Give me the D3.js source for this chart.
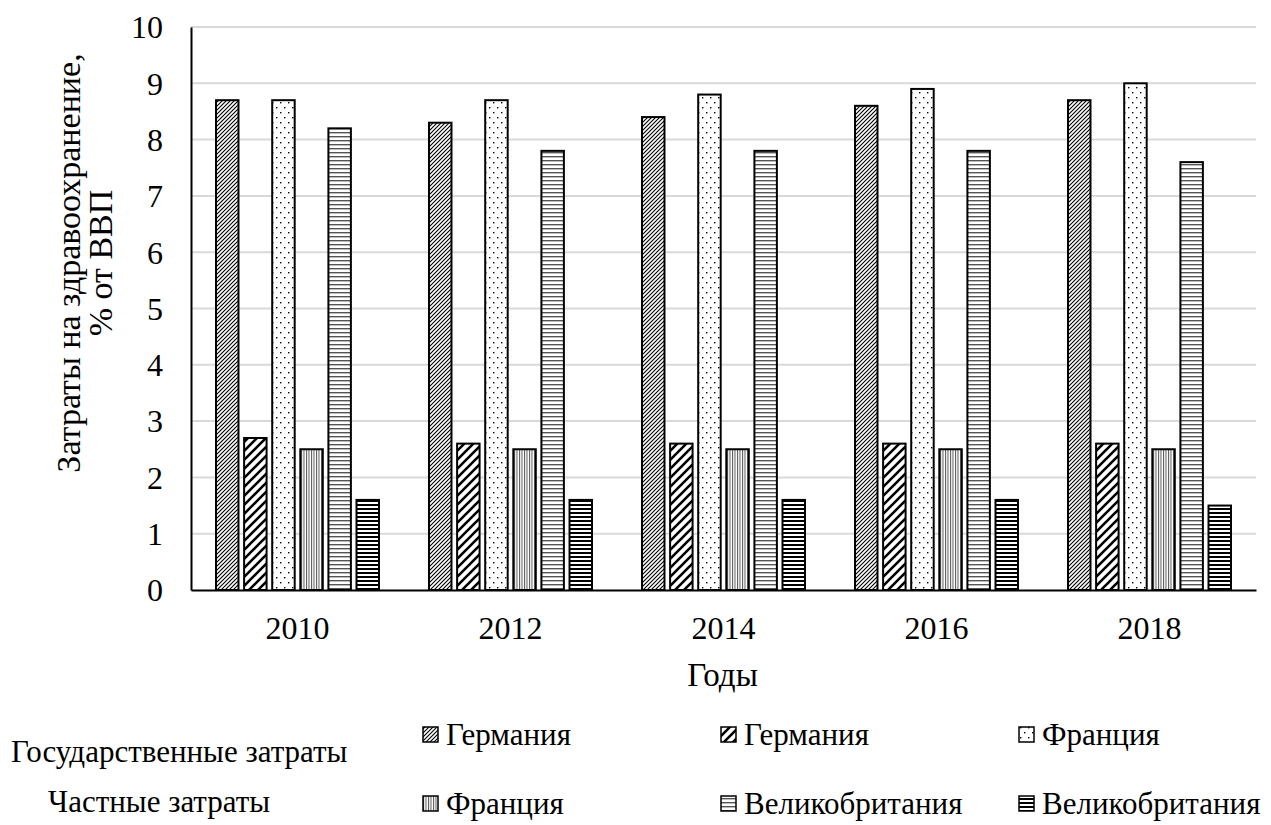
<!DOCTYPE html>
<html>
<head>
<meta charset="utf-8">
<script src="https://cdn.jsdelivr.net/npm/d3@7"></script>
<style>
  html, body { margin: 0; padding: 0; background: #fff; }
</style>
</head>
<body>
<svg id="chart" width="1271" height="825"></svg>
<script>
// Years on the category axis
const years = ["2010", "2012", "2014", "2016", "2018"];

// Series keys, drawn in this order inside each year group
const seriesKeys = ["deGov", "dePriv", "frGov", "frPriv", "ukGov", "ukPriv"];
const seriesNames = ["Германия", "Германия", "Франция", "Франция", "Великобритания", "Великобритания"];

// Health spending, % of GDP
const deGov  = [8.7, 8.3, 8.4, 8.6, 8.7];
const dePriv = [2.7, 2.6, 2.6, 2.6, 2.6];
const frGov  = [8.7, 8.7, 8.8, 8.9, 9.0];
const frPriv = [2.5, 2.5, 2.5, 2.5, 2.5];
const ukGov  = [8.2, 7.8, 7.8, 7.8, 7.6];
const ukPriv = [1.6, 1.6, 1.6, 1.6, 1.5];

const yTicks = [0, 1, 2, 3, 4, 5, 6, 7, 8, 9, 10];

const yTitleLines = ["Затраты на здравоохранение,", "% от ВВП"];
const xTitle = "Годы";
const groupLabels = ["Государственные затраты", "Частные затраты"];

const valuesByKey = { deGov, dePriv, frGov, frPriv, ukGov, ukPriv };

const FONT = "'Liberation Serif', 'Times New Roman', serif";

const svg = d3.select("#chart");
const plotLeft = 191, plotRight = 1256, plotTop = 27, plotBottom = 590;

// Hatch fills
const defs = svg.append("defs");
function pat(id, w, h) {
  return defs.append("pattern").attr("id", id)
    .attr("patternUnits", "userSpaceOnUse").attr("width", w).attr("height", h)
    .call(p => p.append("rect").attr("width", w).attr("height", h).attr("fill", "#fff"));
}
// dense upward diagonal
pat("p-deGov", 4, 4).append("path")
  .attr("d", "M-1,1 L1,-1 M0,4 L4,0 M3,5 L5,3")
  .attr("stroke", "#000").attr("stroke-width", 1.1);
// wide upward diagonal
pat("p-dePriv", 9, 9).append("path")
  .attr("d", "M-2,2 L2,-2 M0,9 L9,0 M7,11 L11,7")
  .attr("stroke", "#000").attr("stroke-width", 2.6);
// sparse dots
const dots = pat("p-frGov", 8, 10);
dots.append("rect").attr("x", 1).attr("y", 2).attr("width", 1.4).attr("height", 1.4).attr("fill", "#000");
dots.append("rect").attr("x", 5).attr("y", 7).attr("width", 1.4).attr("height", 1.4).attr("fill", "#000");
// narrow vertical
pat("p-frPriv", 2.5, 4).append("rect")
  .attr("x", 0).attr("y", 0).attr("width", 1).attr("height", 4).attr("fill", "#555");
// light horizontal
pat("p-ukGov", 4, 4).append("rect")
  .attr("x", 0).attr("y", 0).attr("width", 4).attr("height", 1.4).attr("fill", "#555");
// dark horizontal
pat("p-ukPriv", 4, 4).append("rect")
  .attr("x", 0).attr("y", 0).attr("width", 4).attr("height", 2).attr("fill", "#000");

const x0 = d3.scaleBand().domain(years).range([plotLeft, plotRight]);
const x1 = d3.scaleBand().domain(seriesKeys).range([0, x0.bandwidth()])
  .paddingInner(0.2).paddingOuter(0.89);
const y = d3.scaleLinear().domain([0, 10]).range([plotBottom, plotTop]);

// Gridlines
svg.append("g").selectAll("line").data(yTicks.filter(d => d > 0)).join("line")
  .attr("x1", plotLeft).attr("x2", plotRight)
  .attr("y1", d => y(d)).attr("y2", d => y(d))
  .attr("stroke", "#d9d9d9").attr("stroke-width", 2);

// Y axis
const yAxis = svg.append("g").attr("transform", `translate(${plotLeft},0)`)
  .call(d3.axisLeft(y).tickValues(yTicks).tickSize(0).tickPadding(28).tickFormat(d3.format("d")));
yAxis.select(".domain").attr("stroke", "#000").attr("stroke-width", 2);
yAxis.selectAll("text").attr("fill", "#000").attr("dy", "0.34em")
  .style("font-family", FONT).style("font-size", "32px");

// Bars
const groups = svg.append("g").selectAll("g").data(years).join("g")
  .attr("transform", d => `translate(${x0(d)},0)`);
groups.selectAll("rect")
  .data((yr, i) => seriesKeys.map(k => ({ key: k, value: valuesByKey[k][i] })))
  .join("rect")
  .attr("x", d => x1(d.key))
  .attr("width", x1.bandwidth())
  .attr("y", d => y(d.value))
  .attr("height", d => y(0) - y(d.value))
  .attr("fill", d => `url(#p-${d.key})`)
  .attr("stroke", "#000").attr("stroke-width", 2);

// X axis
const xAxis = svg.append("g").attr("transform", `translate(0,${plotBottom})`)
  .call(d3.axisBottom(x0).tickSize(0).tickPadding(26));
xAxis.select(".domain").attr("stroke", "#000").attr("stroke-width", 2);
xAxis.selectAll("text").attr("fill", "#000")
  .style("font-family", FONT).style("font-size", "32px");

// Axis titles
svg.append("text").attr("x", (plotLeft + plotRight) / 2 - 1).attr("y", 686)
  .attr("text-anchor", "middle").style("font-family", FONT).style("font-size", "33px").text(xTitle);
const yt = svg.append("text").attr("transform", "translate(0,263) rotate(-90)")
  .attr("text-anchor", "middle").style("font-family", FONT).style("font-size", "34px");
yt.append("tspan").attr("x", 0).attr("y", 80).text(yTitleLines[0]);
yt.append("tspan").attr("x", 0).attr("y", 112).text(yTitleLines[1]);

// Legend
svg.append("text").attr("x", 11).attr("y", 762).style("font-family", FONT).style("font-size", "31px").text(groupLabels[0]);
svg.append("text").attr("x", 48).attr("y", 812).style("font-family", FONT).style("font-size", "31px").text(groupLabels[1]);

const colX = [423, 721, 1019];
const rowBase = [745, 814];
const legend = svg.append("g").selectAll("g").data(seriesKeys).join("g")
  .attr("transform", (d, i) => `translate(${colX[i % 3]},${rowBase[Math.floor(i / 3)]})`);
legend.append("rect").attr("x", 0).attr("y", -18).attr("width", 15).attr("height", 15)
  .attr("fill", d => `url(#p-${d})`).attr("stroke", "#000").attr("stroke-width", 1.5);
legend.append("text").attr("x", 23).attr("y", 0)
  .style("font-family", FONT).style("font-size", "31px")
  .text((d, i) => seriesNames[i]);
</script>
</body>
</html>
